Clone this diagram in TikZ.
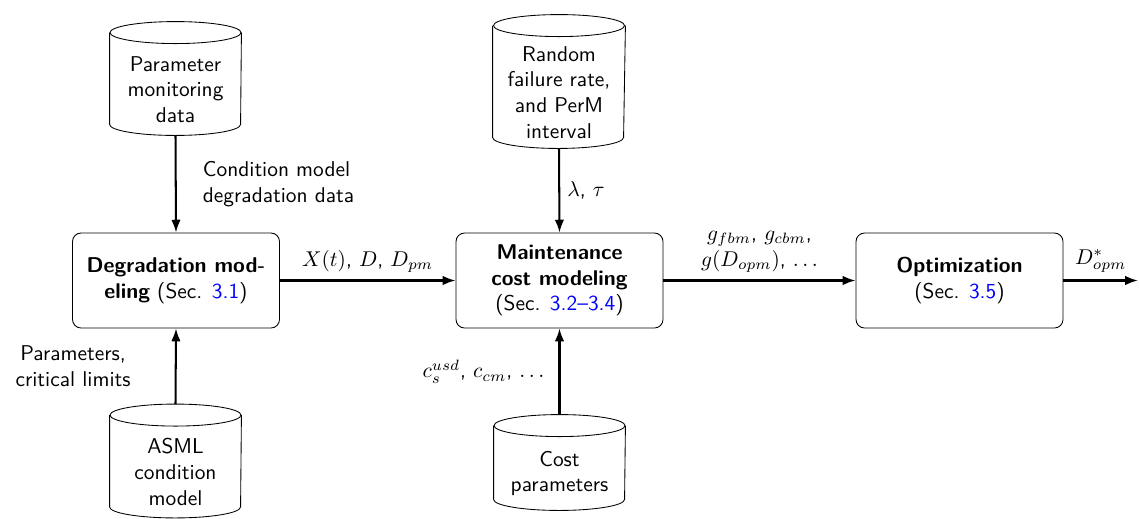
\documentclass[tikz,border=0pt]{standalone}
\usepackage{fontspec}
\usetikzlibrary{arrows.meta}
% one drawing unit = 0.4673pt
\newcommand\pxu[1]{#1*0.4673pt}
\begin{document}
\begin{tikzpicture}[x=0.4673pt,y=-0.4673pt,
  font=\sffamily,
  proc/.style={draw, rectangle, rounded corners=4pt, align=center,
    minimum width=\pxu{207}, minimum height=\pxu{95}, inner sep=2pt},
  store/.style={rectangle, align=center, inner sep=0pt,
    minimum width=\pxu{131}},
  flow/.style={line width=0.95pt, -{Latex[length=6pt,width=4.4pt]}}]
\useasboundingbox (0,0) rectangle (1139,518);

% data stores (body below the top ellipse)
\node[store, minimum height=\pxu{91}] (pmd) at (175.5,89.5) {Parameter\\monitoring\\data};
\node[store, minimum height=\pxu{111}, minimum width=\pxu{132}] (rfr) at (559,92.5) {Random\\failure rate,\\and PerM\\interval};
\node[store, minimum height=\pxu{91}] (asml) at (175.5,472) {ASML\\condition\\model};
\node[store, minimum height=\pxu{73}] (cost) at (559.5,473.5) {Cost\\parameters};

% cylinder outlines around the stores
\def\ry{\pxu{11}}
\foreach \n in {pmd,rfr,asml,cost}{
  \draw ([yshift=\ry]\n.north west) -- ([yshift=\ry]\n.south west)
    arc[start angle=180, end angle=360, x radius=\pxu{65.5}, y radius=\ry]
    -- ([yshift=\ry]\n.north east);
  \draw ([yshift=\ry]\n.north) ellipse[x radius=\pxu{65.5}, y radius=\ry];
}

% processing steps
\node[proc] (deg) at (176,280.5) {\textbf{Degradation mod-}\\\textbf{eling} (Sec. {\color{blue}3.1})};
\node[proc] (mcm) at (559.5,280.5) {\textbf{Maintenance}\\\textbf{cost modeling}\\(Sec. {\color{blue}3.2\textendash3.4})};
\node[proc] (opt) at (959.5,280.5) {\textbf{Optimization}\\(Sec. {\color{blue}3.5})};
\coordinate (out) at (1138,280.5);

% flows
\draw[flow] (pmd.south) -- node[right, align=left, xshift=\pxu{19}] {Condition model\\degradation data} (deg.north);
\draw[flow] ([yshift=2*\ry]asml.north) -- node[left, align=center, xshift=-\pxu{37}] {Parameters,\\critical limits} (deg.south);
\draw[flow] (rfr.south) -- node[right] {$\lambda$, $\tau$} (mcm.north);
\draw[flow] ([yshift=2*\ry]cost.north) -- node[left, xshift=-\pxu{7}] {$c_s^{usd}$, $c_{cm}$, $\ldots$} (mcm.south);
\draw[flow] (deg.east) -- node[above] {$X(t)$, $D$, $D_{pm}$} (mcm.west);
\draw[flow] (mcm.east) -- node[above, align=center] {$g_{fbm}$, $g_{cbm}$,\\$g(D_{opm})$, $\ldots$} (opt.west);
\draw[flow] (opt.east) -- node[above] {$D^{*}_{opm}$} (out);
\end{tikzpicture}
\end{document}
